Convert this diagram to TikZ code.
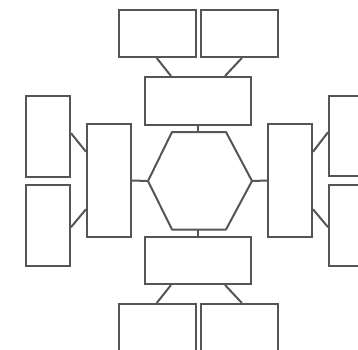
\documentclass[tikz,border=0pt]{standalone}
\usetikzlibrary{calc}
\definecolor{ln}{HTML}{555555}
\begin{document}
\begin{tikzpicture}[x=1pt,y=-1pt,
  box/.style={draw=ln,line width=2pt,fill=white,rectangle,inner sep=0pt},
  conn/.style={draw=ln,line width=2pt}]
\useasboundingbox (0,0) rectangle (358,349);
% top
\node[box,minimum width=77pt,minimum height=47pt] (T1) at (157.5,33.5) {};
\node[box,minimum width=77pt,minimum height=47pt] (T2) at (239.5,33.5) {};
\node[box,minimum width=106pt,minimum height=48pt] (TC) at (198,101) {};
% bottom
\node[box,minimum width=106pt,minimum height=47pt] (BC) at (198,260.5) {};
\node[box,minimum width=77pt,minimum height=47pt] (B1) at (157.5,327.5) {};
\node[box,minimum width=77pt,minimum height=47pt] (B2) at (239.5,327.5) {};
% left
\node[box,minimum width=44pt,minimum height=81pt] (L1) at (48,136.5) {};
\node[box,minimum width=44pt,minimum height=81pt] (L2) at (48,225.5) {};
\node[box,minimum width=44pt,minimum height=113pt] (LI) at (109,180.5) {};
% right
\node[box,minimum width=44pt,minimum height=80pt] (R1) at (351,135.5) {};
\node[box,minimum width=44pt,minimum height=81pt] (R2) at (351,225.5) {};
\node[box,minimum width=44pt,minimum height=113pt] (RI) at (290,180.5) {};
% hexagon
\coordinate (HL) at (148,181);
\coordinate (HTL) at (172,132);
\coordinate (HTR) at (226,132);
\coordinate (HR) at (252,181);
\coordinate (HBR) at (226,229.5);
\coordinate (HBL) at (172,229.5);
\draw[conn,line join=round] (HL) -- (HTL) -- (HTR) -- (HR) -- (HBR) -- (HBL) -- cycle;
\coordinate (HT) at (198,132);
\coordinate (HB) at (198,229.5);
% connectors
\draw[conn] ($(T1.south west)!0.49!(T1.south east)$) -- ($(TC.north west)!0.25!(TC.north east)$);
\draw[conn] ($(T2.south west)!0.53!(T2.south east)$) -- ($(TC.north west)!0.75!(TC.north east)$);
\draw[conn] ($(B1.north west)!0.49!(B1.north east)$) -- ($(BC.south west)!0.25!(BC.south east)$);
\draw[conn] ($(B2.north west)!0.53!(B2.north east)$) -- ($(BC.south west)!0.75!(BC.south east)$);
\draw[conn] (TC.south) -- (HT);
\draw[conn] (BC.north) -- (HB);
\draw[conn] (LI.east) -- (HL);
\draw[conn] (RI.west) -- (HR);
\draw[conn] ($(L1.north east)!0.46!(L1.south east)$) -- ($(LI.north west)!0.25!(LI.south west)$);
\draw[conn] ($(L2.north east)!0.52!(L2.south east)$) -- ($(LI.north west)!0.75!(LI.south west)$);
\draw[conn] ($(R1.north west)!0.46!(R1.south west)$) -- ($(RI.north east)!0.25!(RI.south east)$);
\draw[conn] ($(R2.north west)!0.52!(R2.south west)$) -- ($(RI.north east)!0.75!(RI.south east)$);
\end{tikzpicture}
\end{document}
